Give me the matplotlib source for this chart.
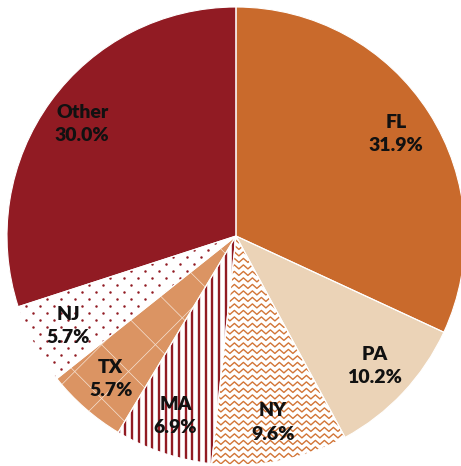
import numpy as np
import matplotlib
matplotlib.use('Agg')
import matplotlib.pyplot as plt
from matplotlib.collections import LineCollection

# shares by state, clockwise from 12 o'clock
STATES = ['FL', 'PA', 'NY', 'MA', 'TX', 'NJ', 'Other']
SHARES = [31.9, 10.2, 9.6, 6.9, 5.7, 5.7, 30.0]

ORANGE = '#C96A2C'
DARKRED = '#911B23'
FACES = [ORANGE, '#EBD3B7', 'white', 'white', '#DB9463', 'white', DARKRED]

PX = 229.0          # pixels per unit radius
CX, CY = 236, 236   # pie centre in image pixels (from top-left)
W, H = 461, 466


def px(n):
    return n / PX


def main():
    fig = plt.figure(figsize=(W / 100, H / 100), dpi=100)
    ax = fig.add_axes([0, 0, 1, 1])
    wedges, _ = ax.pie(SHARES, startangle=90, counterclock=False, radius=1,
                       colors=FACES,
                       wedgeprops=dict(edgecolor='none', linewidth=0))
    w = dict(zip(STATES, wedges))

    # NY: orange zigzag rows
    segs = []
    xs = np.arange(-0.4, 0.7, px(4.5))
    for y0 in np.arange(-1.1, 0.1, px(6.5)):
        ys = y0 + np.where(np.arange(len(xs)) % 2 == 0, px(2), -px(2))
        segs.append(np.column_stack([xs, ys]))
    lc = LineCollection(segs, colors='#D27537', linewidths=1.0, zorder=2)
    ax.add_collection(lc)
    lc.set_clip_path(w['NY'])

    # MA: dark red vertical lines
    segs = [[(x, -1.1), (x, 0.1)] for x in np.arange(-0.6, 0.1, px(6.7))]
    lc = LineCollection(segs, colors=DARKRED, linewidths=1.7, zorder=2)
    ax.add_collection(lc)
    lc.set_clip_path(w['MA'])

    # TX: faint white diagonal grid over the checker tone
    segs = []
    for c in np.arange(-2.0, 2.0, px(38) * np.sqrt(2)):
        segs.append([(-1.2, -1.2 + c), (0.2, 0.2 + c)])
        segs.append([(-1.2, 1.2 + c), (0.2, -0.2 + c)])
    lc = LineCollection(segs, colors='#F6E3D4', linewidths=0.5, zorder=2)
    ax.add_collection(lc)
    lc.set_clip_path(w['TX'])

    # NJ: staggered dark red dots
    gx, gy = [], []
    for i, y0 in enumerate(np.arange(-1.1, 0.1, px(7))):
        off = px(7) if i % 2 else 0.0
        for x0 in np.arange(-1.1, 0.1, px(14)):
            gx.append(x0 + off)
            gy.append(y0)
    sc = ax.scatter(gx, gy, s=3.2, color=DARKRED, linewidths=0, zorder=2)
    sc.set_clip_path(w['NJ'])

    # thin white separators on top
    ax.pie(SHARES, startangle=90, counterclock=False, radius=1,
           wedgeprops=dict(fill=False, edgecolor='white', linewidth=0.8,
                           zorder=4))

    for name, share, wd in zip(STATES, SHARES, wedges):
        t = np.deg2rad((wd.theta1 + wd.theta2) / 2)
        ax.text(0.83 * np.cos(t), 0.83 * np.sin(t), f'{name}\n{share:.1f}%',
                ha='center', va='center', fontsize=14, fontweight='heavy',
                family=['Lato', 'DejaVu Sans'], linespacing=1.45,
                color='#111111', zorder=5)

    ax.set_xlim(-CX / PX, (W - CX) / PX)
    ax.set_ylim(-(H - CY) / PX, CY / PX)
    ax.set_aspect('equal')
    ax.axis('off')
    fig.savefig('out.png', dpi=100)


if __name__ == '__main__':
    main()
